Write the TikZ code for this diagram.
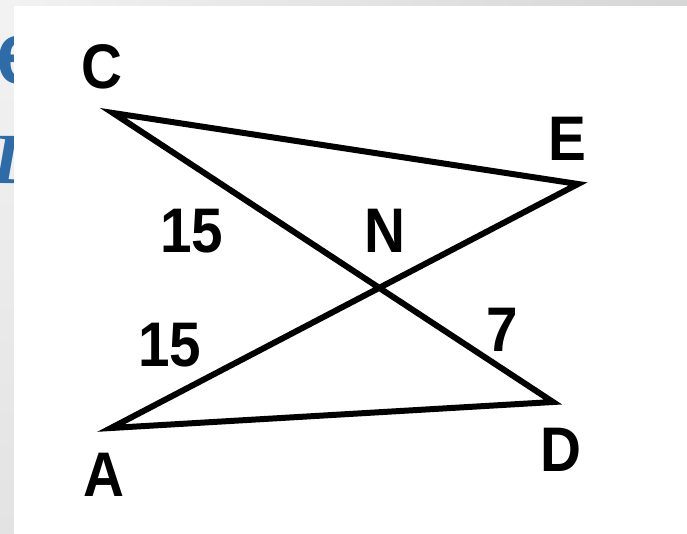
\documentclass[tikz,border=0pt]{standalone}
\usepackage{fontspec}
\setmainfont{Liberation Sans}[FakeStretch=0.9]
\newfontfamily\serifit{Liberation Serif}
\usetikzlibrary{calc}
\definecolor{slideblue}{HTML}{2F6BA6}
\tikzset{
  lbl/.style={font=\fontsize{63}{63}\selectfont\bfseries, inner sep=0pt},
  seg/.style={line width=6pt, line join=miter, draw=black}
}
\begin{document}
\begin{tikzpicture}[x=1pt,y=-1pt]
\useasboundingbox (0,0) rectangle (687,533);
% slide background
\fill[gray!18] (0,0) rectangle (687,533);
\shade[left color=gray!10, right color=gray!32] (0,0) rectangle (687,6);
\shade[top color=gray!10, bottom color=gray!22] (0,6) rectangle (14,533);
% partially hidden slide text
\begin{scope}
\clip (0,6) rectangle (14,533);
\node[anchor=base west, inner sep=0pt, text=slideblue,
      font=\fontsize{88}{88}\selectfont\bfseries] (te) at (-4,83) {e};
\node[anchor=base west, inner sep=0pt, text=slideblue,
      font=\fontsize{72}{72}\selectfont\serifit\bfseries\itshape] (td) at (-8,183) {D};
\end{scope}
% white panel
\fill[white] (14,6) rectangle (687,533);
% vertices
\coordinate (C) at (113,113);
\coordinate (E) at (578,184);
\coordinate (A) at (111,428);
\coordinate (D) at (553,402);
\draw[seg] (C) -- (E) -- (A) -- (D) -- cycle;
% labels
\node[lbl] (lC) at (102,67) {C};
\node[lbl] (lE) at (567,139) {E};
\node[lbl] (lN) at (385,231) {N};
\node[lbl] (lA) at (104,475) {A};
\node[lbl] (lD) at (561,450) {D};
\node[lbl] (l15a) at (192,231) {15};
\node[lbl] (l15b) at (170,345) {15};
\node[lbl] (l7) at (502,330) {7};
\end{tikzpicture}
\end{document}
